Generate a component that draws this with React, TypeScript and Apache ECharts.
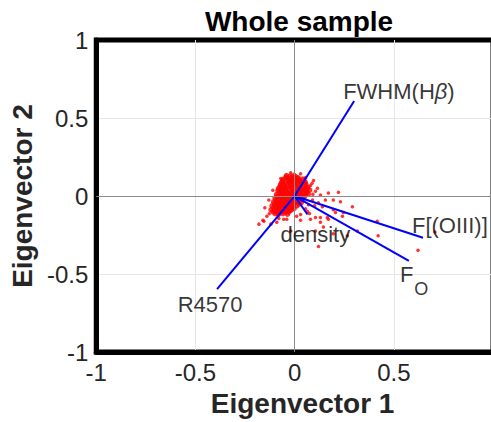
import React, { useEffect, useRef } from "react";
import * as echarts from "echarts";

// ---- data ----
const titleText = "Whole sample";
const xAxisName = "Eigenvector 1";
const yAxisName = "Eigenvector 2";
const axisMin = -1;
const axisMax = 1;
const axisStep = 0.5;

const vectorNames = ["FWHM(Hβ)", "R4570", "F[(OIII)]", "F_O", "density"];
const vectorX = [0.3, -0.391, 0.647, 0.576, 0.065];
const vectorY = [0.609, -0.596, -0.267, -0.416, -0.118];

// dense core of the score cloud
const coreScores: [number, number][] = [
  [-0.041, 0.131], [-0.022, 0.128], [-0.003, 0.133], [0.008, 0.122],
  [-0.056, 0.108], [-0.034, 0.112], [-0.016, 0.106], [0.004, 0.111], [0.023, 0.104], [0.041, 0.109],
  [-0.066, 0.086], [-0.046, 0.083], [-0.026, 0.088], [-0.004, 0.084], [0.014, 0.087], [0.036, 0.082], [0.054, 0.088],
  [-0.074, 0.061], [-0.056, 0.058], [-0.034, 0.063], [-0.016, 0.057], [0.006, 0.061], [0.024, 0.056], [0.046, 0.062], [0.066, 0.057],
  [-0.084, 0.036], [-0.066, 0.033], [-0.044, 0.038], [-0.026, 0.032], [-0.004, 0.036], [0.016, 0.031], [0.034, 0.037], [0.056, 0.033], [0.076, 0.038],
  [-0.091, 0.011], [-0.069, 0.008], [-0.051, 0.013], [-0.029, 0.007], [-0.011, 0.012], [0.011, 0.008], [0.029, 0.013], [0.051, 0.009], [0.069, 0.012],
  [-0.099, -0.013], [-0.081, -0.017], [-0.059, -0.012], [-0.041, -0.016], [-0.019, -0.014], [0.001, -0.018], [0.021, -0.012], [0.041, -0.016],
  [-0.106, -0.038], [-0.084, -0.042], [-0.066, -0.037], [-0.044, -0.041], [-0.026, -0.039], [-0.004, -0.043], [0.014, -0.038], [0.034, -0.042],
  [-0.114, -0.063], [-0.094, -0.067], [-0.076, -0.062], [-0.054, -0.066], [-0.036, -0.064], [-0.014, -0.068], [0.011, -0.063],
  [-0.119, -0.088], [-0.101, -0.092], [-0.079, -0.087], [-0.061, -0.091], [-0.039, -0.089], [-0.021, -0.093],
  [-0.098, -0.113], [-0.081, -0.117], [-0.059, -0.112], [-0.036, -0.116],
  [-0.031, 0.097], [-0.011, 0.094], [0.009, 0.098], [-0.052, 0.071], [-0.021, 0.074], [0.028, 0.072],
  [-0.061, 0.046], [-0.013, 0.048], [0.041, 0.047], [-0.077, 0.021], [-0.038, 0.022], [0.003, 0.024], [0.043, 0.023],
  [-0.088, -0.003], [-0.048, -0.002], [-0.007, -0.004], [0.031, 0.001], [-0.093, -0.028], [-0.053, -0.027], [-0.012, -0.029],
  [-0.101, -0.052], [-0.062, -0.053], [-0.024, -0.052], [-0.085, -0.076], [-0.046, -0.077], [-0.003, -0.079],
  [-0.069, -0.102], [-0.049, -0.103],
  [-0.043, 0.121], [-0.012, 0.119], [0.018, 0.116], [-0.061, 0.097], [0.027, 0.093], [0.047, 0.097],
  [-0.071, 0.073], [0.001, 0.071], [0.057, 0.074], [-0.081, 0.049], [-0.041, 0.051], [0.018, 0.047], [0.063, 0.046],
  [-0.058, 0.024], [-0.018, 0.021], [0.024, 0.025], [0.061, 0.024], [-0.071, -0.004], [-0.028, -0.006], [0.014, -0.003], [0.051, -0.002],
  [-0.074, -0.028], [-0.032, -0.027], [0.008, -0.029], [0.028, -0.028], [-0.083, -0.053], [-0.044, -0.053], [-0.006, -0.054], [0.022, -0.051],
  [-0.105, -0.077], [-0.066, -0.078], [-0.026, -0.077], [-0.109, -0.101], [-0.088, -0.104], [-0.031, -0.102], [-0.012, -0.083],
];

// sparse scores around the core and in the tail
const outerScores: [number, number][] = [
  [0.221, 0.025], [0.095, 0.099], [0.115, 0.05], [0.231, -0.037], [0.291, -0.068],
  [0.246, -0.106], [0.206, -0.106], [0.165, -0.137], [0.13, -0.168], [0.145, -0.199],
  [0.105, -0.224], [0.12, -0.323], [0.316, -0.224], [0.416, -0.161], [0.421, -0.255],
  [0.622, -0.348], [0.707, -0.23], [-0.18, -0.18], [-0.155, -0.161], [-0.12, -0.18],
  [-0.02, -0.224], [-0.055, -0.149], [0.065, -0.099], [0.03, -0.118], [0.195, -0.242],
  [0.266, -0.255], [0.17, -0.149], [0.241, -0.13], [0.13, -0.137], [0.105, -0.137],
  [0.195, -0.087], [0.155, -0.025], [0.195, -0.025],
  [0.08, 0.068], [0.105, 0.031], [0.13, 0.006], [0.09, -0.025], [0.07, -0.056],
  [0.055, -0.081], [0.01, -0.13], [-0.04, -0.149], [-0.08, -0.143], [-0.14, -0.13],
  [-0.16, -0.155], [-0.09, -0.168], [0.03, -0.155], [0.08, -0.149], [0.14, -0.068],
  [0.12, -0.043], [0.17, 0.019], [0.055, 0.118], [0.03, 0.143], [-0.02, 0.149],
  [-0.07, 0.112], [-0.11, 0.037], [-0.13, -0.025], [-0.15, -0.075],
  [0.088, 0.082], [0.092, 0.012], [0.101, -0.062], [0.075, -0.112], [-0.128, -0.113],
];

const FONT = "'Liberation Sans', Arial, Helvetica, sans-serif";

// label styling per vector (positions/styles only)
const labelStyles: Record<string, any> = {
  "FWHM(Hβ)": { align: "left", verticalAlign: "middle", offset: [-11, -10], formatter: "{n|FWHM(H}{i|β}{n|)}" },
  R4570: { align: "center", verticalAlign: "middle", offset: [-7, 15], formatter: "{n|R4570}" },
  "F[(OIII)]": { align: "left", verticalAlign: "middle", offset: [-11, -12], formatter: "{n|F[(OIII)]}" },
  F_O: { align: "left", verticalAlign: "top", offset: [-9, 3], formatter: "{f|F}{s|O}" },
  density: { align: "left", verticalAlign: "middle", offset: [-27, 20], formatter: "{n|density}" },
};

export default function App() {
  const ref = useRef<HTMLDivElement>(null);
  useEffect(() => {
    if (!ref.current) return;
    const chart = echarts.init(ref.current, undefined, { renderer: "svg" });
    const rich = {
      n: { fontSize: 22, fontFamily: FONT, color: "#000", lineHeight: 24 },
      i: { fontSize: 22, fontFamily: FONT, color: "#000", fontStyle: "italic", lineHeight: 24 },
      f: { fontSize: 22, fontFamily: FONT, color: "#000", lineHeight: 22, verticalAlign: "top" },
      s: { fontSize: 18, fontFamily: FONT, color: "#000", lineHeight: 18, verticalAlign: "top", padding: [16, 0, 0, 1] },
    };
    const vectorSeries = vectorNames.map((name, k) => ({
      type: "line",
      name,
      data: [
        [0, 0],
        [vectorX[k], vectorY[k]],
      ],
      symbol: "none",
      lineStyle: { color: "#0000ff", width: 2 },
      z: 4,
      silent: true,
    }));
    const labelData = vectorNames.map((name, k) => ({
      value: [vectorX[k], vectorY[k]],
      name,
      label: {
        show: true,
        position: "inside",
        align: labelStyles[name].align,
        verticalAlign: labelStyles[name].verticalAlign,
        offset: labelStyles[name].offset,
        formatter: labelStyles[name].formatter,
        rich,
      },
    }));
    const axisCommon = {
      type: "value",
      min: axisMin,
      max: axisMax,
      interval: axisStep,
      axisLine: { show: true, onZero: false, lineStyle: { color: "#000", width: 5 } },
      axisTick: { show: false },
      splitLine: { show: true, showMinLine: false, showMaxLine: false, lineStyle: { color: "#e6e6e6", width: 1 } },
      axisLabel: { fontSize: 24, fontFamily: FONT, color: "#262626", margin: 8 },
      nameLocation: "middle",
    };
    chart.setOption({
      animation: false,
      backgroundColor: "#fff",
      title: {
        text: titleText,
        left: 294,
        top: 2,
        textAlign: "center",
        textStyle: { fontSize: 28, fontWeight: "bold", fontFamily: FONT, color: "#000" },
      },
      grid: { left: 94, top: 40, width: 399, height: 322, show: true, borderColor: "#000", borderWidth: 5, backgroundColor: "#fff" },
      xAxis: {
        ...axisCommon,
        axisLabel: { ...axisCommon.axisLabel, showMaxLabel: false },
        name: xAxisName,
        nameGap: 25,
        nameTextStyle: { fontSize: 28, fontWeight: "bold", fontFamily: FONT, color: "#262626", padding: [0, 0, 0, 16] },
      },
      yAxis: {
        ...axisCommon,
        name: yAxisName,
        nameGap: 60,
        nameTextStyle: { fontSize: 28, fontWeight: "bold", fontFamily: FONT, color: "#262626" },
      },
      series: [
        {
          type: "line",
          data: [],
          z: 1,
          markLine: {
            silent: true,
            symbol: "none",
            label: { show: false },
            lineStyle: { color: "#8a8a8a", width: 1, type: "solid" },
            data: [{ xAxis: 0 }, { yAxis: 0 }],
          },
        },
        {
          type: "scatter",
          data: coreScores,
          symbol: "circle",
          symbolSize: 5.5,
          itemStyle: { color: "#ff0000" },
          z: 3,
          silent: true,
        },
        {
          type: "scatter",
          data: outerScores,
          symbol: "circle",
          symbolSize: 3.5,
          itemStyle: { color: "#ff0000" },
          z: 3,
          silent: true,
        },
        ...vectorSeries,
        {
          type: "scatter",
          data: labelData,
          symbolSize: 0,
          z: 6,
          silent: true,
        },
      ],
    });
    return () => chart.dispose();
  }, []);
  return (
    <div style={{ position: "fixed", left: 0, top: 0, width: 491, height: 422, overflow: "hidden", background: "#fff" }}>
      <div ref={ref} style={{ width: 520, height: 422 }} />
    </div>
  );
}
